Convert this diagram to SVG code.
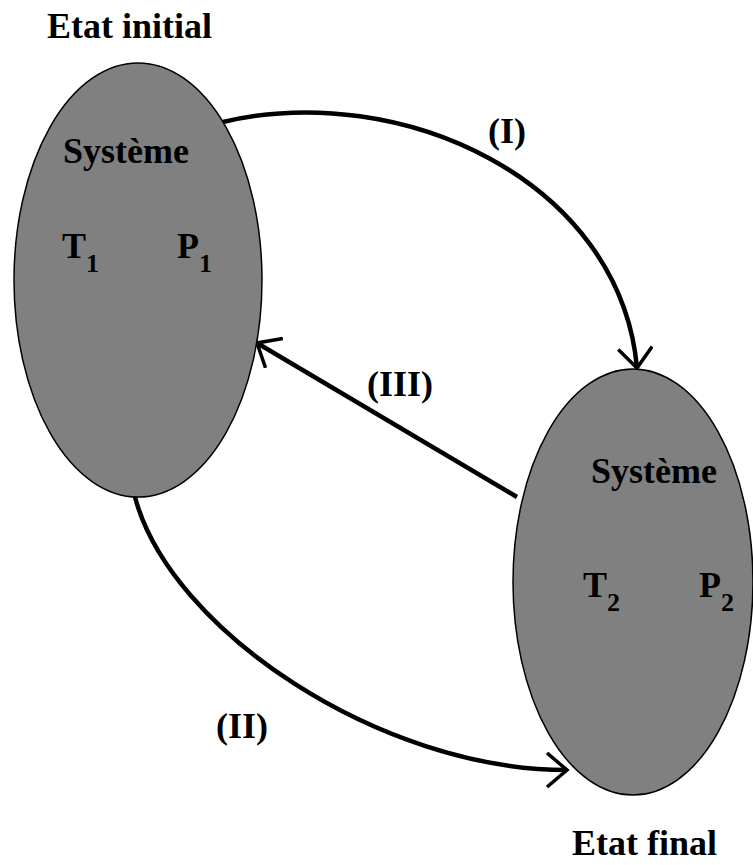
<svg xmlns="http://www.w3.org/2000/svg" width="753" height="865" viewBox="0 0 753 865">
<style>
.t{font-family:"Liberation Serif","Times New Roman",serif;font-weight:bold;fill:#000}
.big{font-size:36px}
.sub{font-size:26px}
.state{fill:#808080;stroke:#000;stroke-width:1.5}
.conn{fill:none;stroke:#000;stroke-width:4.5}
</style>
<defs>
<marker id="v" viewBox="-24 -18 28 36" markerWidth="28" markerHeight="36" refX="0" refY="0" orient="auto" markerUnits="userSpaceOnUse">
<path d="M-20,-17 L0,0 L-20,17" fill="none" stroke="#000" stroke-width="3.5"/>
</marker>
</defs>
<rect width="753" height="865" fill="#fff"/>
<g id="connectors">
<path id="c1" class="conn" d="M223,122 C400,80 620,180 637,368" marker-end="url(#v)"/>
<path id="c2" class="conn" d="M135,497 C170,630 380,770 567,770" marker-end="url(#v)"/>
<path id="c3" class="conn" d="M517,497 L257,343" marker-end="url(#v)"/>
<text class="t big" x="488" y="143">(I)</text>
<text class="t big" x="216" y="738">(II)</text>
<text class="t big" x="367" y="396">(III)</text>
</g>
<g id="initial">
<ellipse class="state" cx="138" cy="280" rx="124" ry="217"/>
<text class="t big" x="47" y="38">Etat initial</text>
<text class="t big" x="63" y="163">Système</text>
<text class="t big" x="62" y="258">T<tspan class="sub" dy="14">1</tspan></text>
<text class="t big" x="177" y="258">P<tspan class="sub" dy="14">1</tspan></text>
</g>
<g id="final">
<ellipse class="state" cx="633" cy="582" rx="120" ry="213"/>
<text class="t big" x="572" y="855">Etat final</text>
<text class="t big" x="591" y="483">Système</text>
<text class="t big" x="583" y="597">T<tspan class="sub" dy="14">2</tspan></text>
<text class="t big" x="699" y="597">P<tspan class="sub" dy="14">2</tspan></text>
</g>
</svg>
